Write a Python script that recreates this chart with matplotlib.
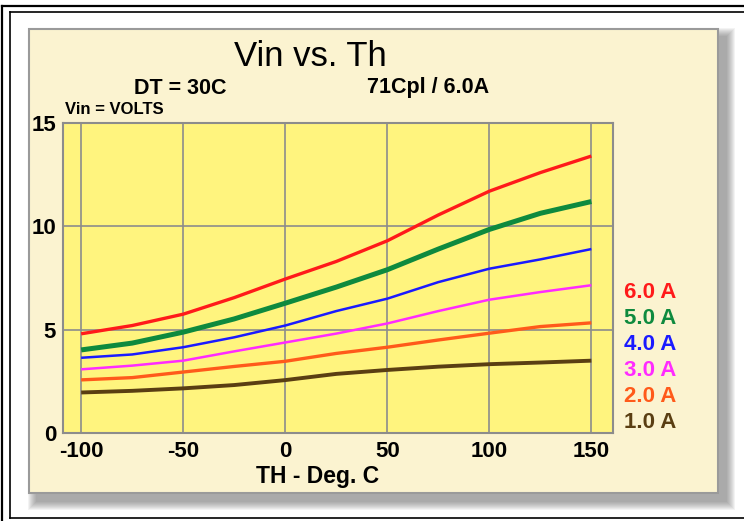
import numpy as np
import matplotlib
matplotlib.use("Agg")
import matplotlib.pyplot as plt
from matplotlib.patches import Rectangle

plt.rcParams['font.family'] = ['Liberation Sans', 'DejaVu Sans']
plt.rcParams['axes.unicode_minus'] = False

# Data (TH in deg C, Vin in volts)
th = [-100, -75, -50, -25, 0, 25, 50, 75, 100, 125, 150]
vin_6a = [4.8, 5.2, 5.75, 6.55, 7.45, 8.3, 9.3, 10.55, 11.7, 12.6, 13.4]
vin_5a = [4.02, 4.35, 4.88, 5.52, 6.28, 7.06, 7.9, 8.9, 9.85, 10.63, 11.2]
vin_4a = [3.64, 3.8, 4.15, 4.63, 5.2, 5.9, 6.5, 7.3, 7.95, 8.4, 8.9]
vin_3a = [3.08, 3.26, 3.5, 3.95, 4.38, 4.81, 5.3, 5.9, 6.45, 6.82, 7.15]
vin_2a = [2.57, 2.68, 2.95, 3.22, 3.47, 3.85, 4.15, 4.5, 4.83, 5.15, 5.33]
vin_1a = [1.96, 2.04, 2.16, 2.32, 2.56, 2.86, 3.05, 3.21, 3.33, 3.41, 3.5]

labels = ['6.0 A', '5.0 A', '4.0 A', '3.0 A', '2.0 A', '1.0 A']
series = [vin_6a, vin_5a, vin_4a, vin_3a, vin_2a, vin_1a]
colors = ['#ff1a1a', '#0e8a3e', '#1a1aff', '#ff2bff', '#ff5a1a', '#5a3e12']
widths = [2.4, 3.6, 1.8, 1.8, 2.4, 2.8]

x_ticks = [-100, -50, 0, 50, 100, 150]
y_ticks = [0, 5, 10, 15]

W, H = 744, 521
fig = plt.figure(figsize=(W / 100, H / 100), dpi=100)
fig.patch.set_facecolor('white')

# background layer in pixel coordinates
bg = fig.add_axes([0, 0, 1, 1])
bg.set_xlim(0, W)
bg.set_ylim(H, 0)
bg.axis('off')

# double black frame
bg.plot([2, W], [5.5, 5.5], color='black', lw=1.6)
bg.plot([2, 2], [5.5, H], color='black', lw=1.6)
bg.plot([10, W], [12, 12], color='black', lw=1.2)
bg.plot([10, 10], [12, 518], color='black', lw=1.2)
bg.plot([10, W], [518, 518], color='black', lw=1.2)

# soft drop shadow behind the panel
px0, py0, px1, py1 = 29, 29, 718, 493
for r in range(9, 0, -1):
    bg.add_patch(Rectangle((px0 + 8 - r, py0 + 8 - r),
                           (px1 - px0) + 2 * r, (py1 - py0) + 2 * r,
                           facecolor='#555555', edgecolor='none', alpha=0.07))
bg.add_patch(Rectangle((px0, py0), px1 - px0, py1 - py0,
                       facecolor='#fbf3d0', edgecolor='#9a9a9a', lw=1.5))

# titles
bg.text(310, 57, 'Vin vs. Th', fontsize=25, ha='center', va='center')
bg.text(180, 88, 'DT = 30C', fontsize=15.5, fontweight='bold', ha='center', va='center')
bg.text(428, 88, '71Cpl / 6.0A', fontsize=15.5, fontweight='bold', ha='center', va='center')
bg.text(65, 110, 'Vin = VOLTS', fontsize=12, fontweight='bold', ha='left', va='center')
bg.text(318, 476, 'TH - Deg. C', fontsize=16.5, fontweight='bold', ha='center', va='center')

# legend labels at right
leg_y = [292, 318, 345, 371, 397, 423]
for lab, c, yy in zip(labels, colors, leg_y):
    bg.text(624, yy, lab, color=c, fontsize=16, fontweight='bold', ha='left', va='center')

# main plot
ax = fig.add_axes([63 / W, 1 - 433 / H, 550 / W, 310 / H])
ax.set_facecolor('#fff47e')
for vals, c, lw in zip(series, colors, widths):
    ax.plot(th, vals, color=c, lw=lw, solid_capstyle='butt', zorder=3)

ax.set_xlim(-108.9, 160.6)
ax.set_ylim(0, 15)
ax.set_xticks(x_ticks)
ax.set_yticks(y_ticks)
ax.set_xticklabels([str(v) for v in x_ticks])
ax.set_yticklabels([str(v) for v in y_ticks])
ax.grid(True, color='#8c8c8c', lw=1.2, zorder=1)
ax.set_axisbelow(True)
for s in ax.spines.values():
    s.set_color('#8c8c8c')
    s.set_linewidth(1.5)
ax.tick_params(axis='both', length=0, labelsize=16)
ax.tick_params(axis='x', pad=6)
ax.tick_params(axis='y', pad=5)
for t in ax.get_xticklabels() + ax.get_yticklabels():
    t.set_fontweight('bold')

fig.savefig('out.png', dpi=100)
